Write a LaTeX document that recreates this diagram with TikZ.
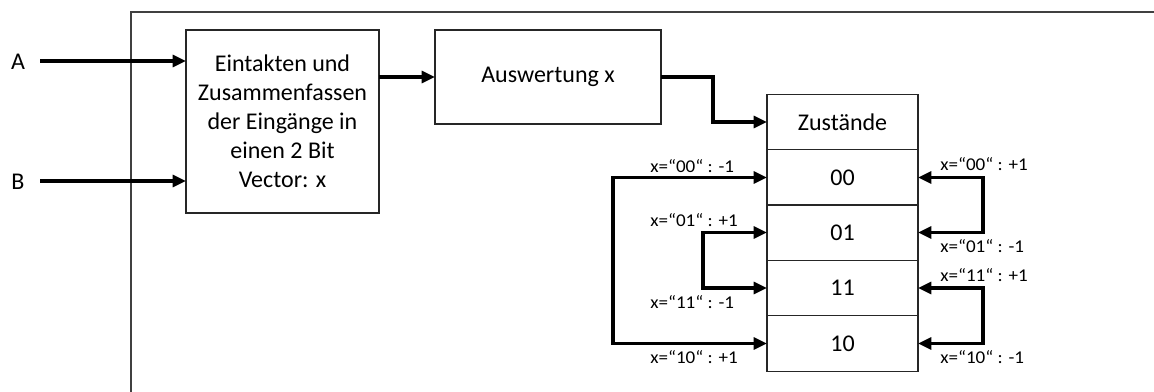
\documentclass[tikz,border=0pt]{standalone}
\usepackage{fontspec}
\setmainfont{Carlito}
\newfontfamily\condfont{Carlito}[FakeStretch=1.06]
\usetikzlibrary{arrows.meta}
\begin{document}
\begin{tikzpicture}[x=0.75pt,y=-0.75pt,
  box/.style={draw=black!85,line width=0.8pt,inner sep=0pt,outer sep=0pt,
    font=\fontsize{18}{21.75}\selectfont,align=center},
  state/.style={box,minimum width=113.25pt,minimum height=41.6pt},
  flow/.style={line width=2.3pt,-{Triangle[length=10pt,width=9pt]}},
  loop/.style={line width=2.3pt,{Triangle[length=10pt,width=9pt]}-{Triangle[length=10pt,width=9pt]}},
  lbl/.style={font=\condfont\fontsize{13.5}{14}\selectfont,inner sep=0pt,anchor=west},
  io/.style={font=\fontsize{18}{21}\selectfont,inner sep=0pt}]
\useasboundingbox (0,0) rectangle (1154,392);

% open frame around the circuit
\draw[black!75,line width=1pt] (131,392) -- (131,12) -- (1154,12);

% blocks
\node[box,minimum width=144.75pt,minimum height=137.25pt] (sync) at (282.5,121.5)
  {Eintakten und\\Zusammenfassen\\der Eingänge in\\einen 2 Bit\\Vector: x};
\node[box,minimum width=169.5pt,minimum height=70.5pt] (eval) at (548,77) {Auswertung x};

% state register
\node[state] (zst) at (842.5,122) {Zustände};
\node[state] (s00) at (842.5,177.5) {00};
\node[state] (s01) at (842.5,232.5) {01};
\node[state] (s11) at (842.5,288) {11};
\node[state] (s10) at (842.5,343.5) {10};

% inputs
\node[io] (A) at (18,62) {A};
\node[io] (B) at (18,182) {B};
\coordinate (Ain) at (40,61);
\coordinate (Bin) at (40,181);
\draw[flow] (Ain) -- (Ain -| sync.west);
\draw[flow] (Bin) -- (Bin -| sync.west);

% data path
\draw[flow] (sync.east |- eval.west) -- (eval.west);
\draw[flow] (eval.east) -- ++(52,0) |- (zst.west);

% transitions
\draw[loop] (s00.west) -- ++(-154,0) |- (s10.west);
\draw[loop] (s01.west) -- ++(-64,0) |- (s11.west);
\draw[loop] (s00.east) -- ++(65,0) |- (s01.east);
\draw[loop] (s11.east) -- ++(65,0) |- (s10.east);

% transition conditions
\node[lbl] (l00m) at (650,166) {x=“00“ : -1};
\node[lbl] (l01p) at (650,220) {x=“01“ : +1};
\node[lbl] (l11m) at (650,302) {x=“11“ : -1};
\node[lbl] (l10p) at (650,357) {x=“10“ : +1};
\node[lbl] (l00p) at (940,164) {x=“00“ : +1};
\node[lbl] (l01m) at (940,246) {x=“01“ : -1};
\node[lbl] (l11p) at (940,275) {x=“11“ : +1};
\node[lbl] (l10m) at (940,357) {x=“10“ : -1};
\end{tikzpicture}
\end{document}
